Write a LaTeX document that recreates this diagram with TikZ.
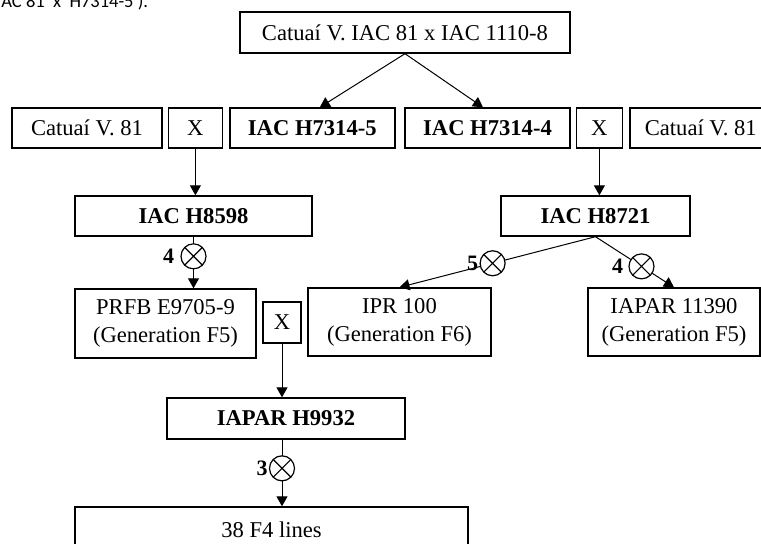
\documentclass[tikz,border=0pt]{standalone}
\usepackage{fontspec}
\setmainfont{Liberation Serif}
\newfontfamily\capfont{Carlito}
\usepackage{tikz}
\usetikzlibrary{arrows.meta, positioning}

\begin{document}
\begin{tikzpicture}[
  x=0.5pt, y=-0.5pt,
  >={Triangle[width=5.5pt,length=5pt]},
  box/.style={draw, line width=0.7pt, minimum height=20pt, inner sep=0pt, align=center,
    font=\fontsize{11.3}{14}\selectfont},
  bbox/.style={box, font=\fontsize{11.3}{14}\selectfont\bfseries},
  num/.style={inner sep=0pt, font=\fontsize{11}{13}\selectfont\bfseries},
  selfing/.style={circle, draw, fill=white, minimum size=12.5pt, inner sep=0pt, line width=0.6pt,
    path picture={\draw[-, line width=0.6pt]
      (path picture bounding box.north west) -- (path picture bounding box.south east)
      (path picture bounding box.north east) -- (path picture bounding box.south west);}},
  link/.style={->, line width=0.5pt}
]
\clip (0,0) rectangle (761,543);
% caption fragment cut by the page
\node[anchor=base west, inner sep=0pt, font=\fontsize{9.25}{11}\selectfont\capfont] (cap) at (1,7) {AC 81\ \ x\ \ H7314-5 ).};
% parents
\node[box, minimum width=165pt, minimum height=20.5pt] (cross) at (405,32.5) {Catuaí V. IAC 81 x IAC 1110-8};
\node[box, minimum width=75pt] (catL) at (87,128) {Catuaí V. 81};
\node[box, minimum width=27pt, right=2.5pt of catL] (xL) {X};
\node[bbox, minimum width=82.5pt, right=3pt of xL] (H73145) {IAC H7314-5};
\node[bbox, minimum width=82.5pt] (H73144) at (487.5,128) {IAC H7314-4};
\node[box, minimum width=23pt, right=2.5pt of H73144] (xR) {X};
\node[box, minimum width=71pt, right=3pt of xR] (catR) {Catuaí V. 81};
% hybrids
\node[bbox, minimum width=118.5pt] (H8598) at (193.5,216) {IAC H8598};
\node[bbox, minimum width=94.5pt] (H8721) at (595.5,216) {IAC H8721};
\node[box, minimum width=90.5pt, minimum height=34.5pt] (prfb) at (165.5,323.5) {PRFB E9705-9\\(Generation F5)};
\node[box, minimum width=19pt, minimum height=20.5pt] (xM) at (282,322.5) {X};
\node[box, minimum width=91.5pt, minimum height=34pt] (ipr) at (399.5,322) {IPR 100\\(Generation F6)};
\node[box, minimum width=86pt, minimum height=34pt] (iapar) at (674,322) {IAPAR 11390\\(Generation F5)};
\node[bbox, minimum width=119pt, minimum height=20.5pt] (H9932) at (286,418.5) {IAPAR H9932};
\node[box, minimum width=196.5pt, minimum height=23pt] (lines) at (271.5,530) {38 F4 lines};

\draw[link] (cross.south) -- ([xshift=3.75pt]H73145.north);
\draw[link] (cross.south) -- ([xshift=-2.25pt]H73144.north);
\draw[link] (xL.south) -- (xL.south |- H8598.north);
\draw[link] (xR.south) -- (xR.south |- H8721.north);
\draw[link] (H8598.south) -- node[selfing, pos=0.38] (s4a) {} (H8598.south |- prfb.north);
\node[num, left=3pt of s4a] {4};
\draw[link] (H8721.south) -- node[selfing, pos=0.525] (s5) {} (ipr.north);
\node[num, left=0.5pt of s5] {5};
\draw[link] (H8721.south) -- node[selfing, pos=0.586] (s4b) {} (iapar.north);
\node[num, left=2.5pt of s4b] {4};
\draw[link] (xM.south) -- (xM.south |- H9932.north);
\draw[link] (xM.south |- H9932.south) -- node[selfing, pos=0.43] (s3) {} (xM.south |- lines.north);
\node[num, left=0.5pt of s3] {3};
\end{tikzpicture}
\end{document}
